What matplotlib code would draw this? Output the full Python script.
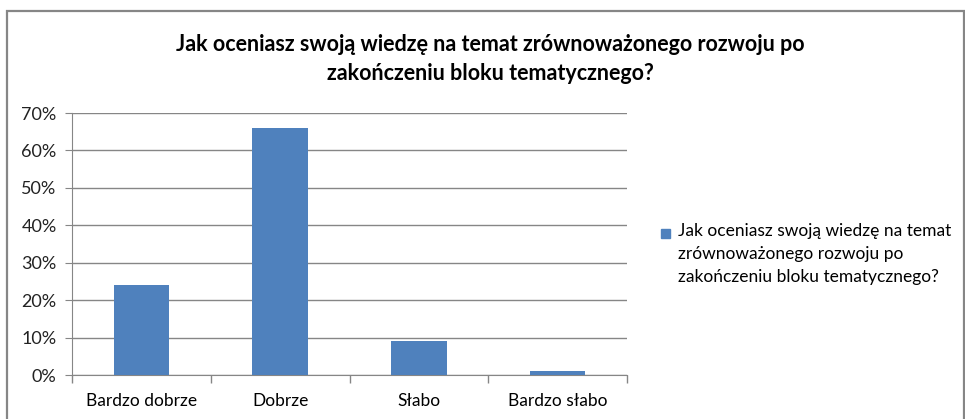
import matplotlib.pyplot as plt
from matplotlib.patches import Rectangle
from matplotlib.ticker import PercentFormatter, FixedLocator, NullFormatter

categories = ['Bardzo dobrze', 'Dobrze', 'Słabo', 'Bardzo słabo']
values = [24, 66, 9, 1]
y_ticks = [0, 10, 20, 30, 40, 50, 60, 70]
title = 'Jak oceniasz swoją wiedzę na temat zrównoważonego rozwoju po\nzakończeniu bloku tematycznego?'
series_name = 'Jak oceniasz swoją wiedzę na temat\nzrównoważonego rozwoju po\nzakończeniu bloku tematycznego?'

bar_color = '#4F81BD'
grid_color = '#868686'

plt.rcParams['font.family'] = ['Lato', 'DejaVu Sans']


def main():
    fig = plt.figure(figsize=(9.65, 4.19), dpi=100)

    # outer chart frame (bottom edge runs off the image)
    fig.patches.append(Rectangle((7 / 965, -0.05), 957 / 965, 1.05 - 11 / 419,
                                 transform=fig.transFigure, fill=False,
                                 edgecolor=grid_color, linewidth=1.6))

    ax = fig.add_axes([72 / 965, 44 / 419, 555 / 965, 262 / 419])
    x = range(len(categories))
    ax.bar(x, values, width=0.4, color=bar_color, zorder=3)

    ax.set_xlim(-0.5, len(categories) - 0.5)
    ax.set_ylim(0, 70)
    ax.set_yticks(y_ticks)
    ax.yaxis.set_major_formatter(PercentFormatter(decimals=0))
    ax.grid(axis='y', color=grid_color, linewidth=1)
    ax.set_axisbelow(True)

    ax.set_xticks(list(x))
    ax.set_xticklabels(categories, fontsize=12.5)
    ax.tick_params(axis='x', length=0, pad=13)
    ax.xaxis.set_minor_locator(FixedLocator([i - 0.5 for i in range(len(categories) + 1)]))
    ax.xaxis.set_minor_formatter(NullFormatter())
    ax.tick_params(axis='x', which='minor', length=6, color=grid_color, width=1)
    ax.tick_params(axis='y', length=5, color=grid_color, labelsize=13, labelcolor='#222222', pad=6)

    for side in ['top', 'right']:
        ax.spines[side].set_visible(False)
    ax.spines['left'].set_color(grid_color)
    ax.spines['bottom'].set_color(grid_color)

    fig.text(490 / 965, 1 - 59 / 419, title, ha='center', va='center',
             fontsize=15.5, fontweight='bold', linespacing=1.45)

    # legend: marker beside the first line of a three-line label
    fig.patches.append(Rectangle((661 / 965, 1 - 238 / 419), 9 / 965, 9 / 419,
                                 transform=fig.transFigure, color=bar_color))
    fig.text(678 / 965, 1 - 223 / 419, series_name, ha='left', va='top',
             fontsize=12.5, linespacing=1.55)

    fig.savefig('out.png', dpi=100)


if __name__ == '__main__':
    main()
